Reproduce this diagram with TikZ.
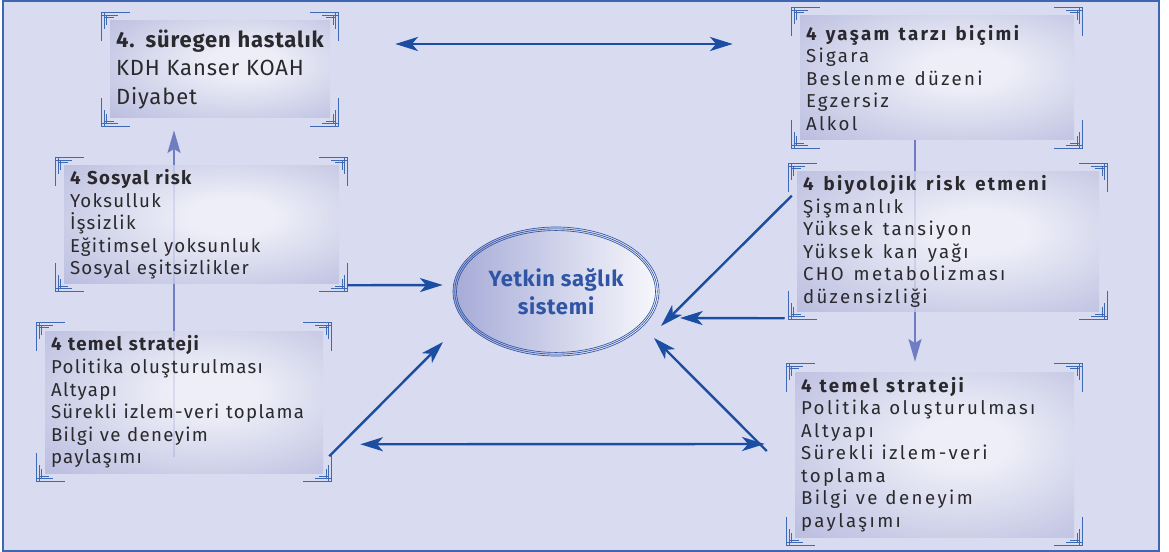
\documentclass[tikz,border=0pt]{standalone}
\usepackage{fontspec}
\setmainfont{Fira Sans}
\newfontfamily\leftface[LetterSpace=7]{Fira Sans}
\newfontfamily\rightface[LetterSpace=13]{Fira Sans}
\newfontfamily\lifeface[LetterSpace=12.5]{Fira Sans}
\newfontfamily\bioface[LetterSpace=12.5]{Fira Sans}
\newfontfamily\topface[LetterSpace=4]{Fira Sans}
\newfontfamily\ovalface[LetterSpace=3]{Fira Sans}
\newcommand{\wordgap}[1]{\spaceskip=#1\relax}
\usetikzlibrary{arrows.meta,positioning,shapes.geometric}

\definecolor{bgviolet}{HTML}{D9DCF0}
\definecolor{frameblue}{HTML}{3F66B3}
\definecolor{ornblue}{HTML}{3D69B5}
\definecolor{arrowblue}{HTML}{1B4EA2}
\definecolor{linkviolet}{HTML}{6F7EC2}
\definecolor{boxedge}{HTML}{A8ACD6}
\definecolor{boxmid}{HTML}{F3F3FA}
\definecolor{textdark}{HTML}{2A292D}
\definecolor{ovalblue}{HTML}{2F55A4}
\definecolor{ovalleft}{HTML}{A6ABD8}
\definecolor{ovalright}{HTML}{F8F8FC}

\pgfdeclarelayer{backdrop}
\pgfdeclarelayer{behind}
\pgfsetlayers{backdrop,behind,main}

\pgfdeclareradialshading{boxglow}{\pgfpoint{6bp}{4bp}}{color(0bp)=(boxmid); color(8bp)=(boxmid); color(44bp)=(boxedge); color(80bp)=(boxedge)}

% corner brackets, drawn for the top left corner and mirrored
\newcommand{\boxornament}[3]{
  \begin{scope}[shift={(#1)}, xscale=#2, yscale=#3]
    \draw[ornline] (-8,20) -- (-8,-8) -- (20,-8);
    \draw[ornthin] (-5.5,-8) -- (-5.5,8) (-3,-6) -- (-3,4)
                   (-8,-5.5) -- (8,-5.5) (-6,-3) -- (4,-3);
  \end{scope}
}
\newcommand{\boxcorners}[1]{
  \boxornament{#1.north west}{1}{1}
  \boxornament{#1.north east}{-1}{1}
  \boxornament{#1.south west}{1}{-1}
  \boxornament{#1.south east}{-1}{-1}
}

\tikzset{
  riskbox/.style={rectangle, shading=boxglow, fill opacity=0.8, text opacity=1,
                  text=textdark, align=left, inner xsep=4.5pt, inner ysep=0pt,
                  font=\leftface\fontsize{14}{16.9}\selectfont,
                  execute at begin node={\wordgap{5pt}}},
  widegap/.style={execute at begin node={\wordgap{#1}}},
  ovalnode/.style={ellipse, draw=ovalblue, line width=0.5pt,
                   left color=ovalleft, right color=ovalright,
                   minimum width=154.5pt, minimum height=96.75pt,
                   font=\ovalface\fontsize{16.5}{21}\selectfont\bfseries, text=ovalblue, align=center},
  ovalring/.style={draw=ovalblue, line width=0.5pt},
  ornline/.style={draw=ornblue, line width=1.1pt},
  ornthin/.style={draw=ornblue, line width=0.45pt},
  flow/.style={draw=arrowblue, line width=1.8pt,
               -{Stealth[length=17pt,width=10.5pt,inset=4.5pt]}},
  twoway/.style={flow, {Stealth[length=17pt,width=10.5pt,inset=4.5pt]}-{Stealth[length=17pt,width=10.5pt,inset=4.5pt]}},
  link/.style={draw=linkviolet, line width=1.5pt},
  linkarrow/.style={link, -{Stealth[length=17pt,width=9.75pt,inset=3pt]}},
}

\begin{document}
\begin{tikzpicture}[x=0.75pt, y=-0.75pt]
  \useasboundingbox (0,0) rectangle (1169,552);
  \begin{pgfonlayer}{backdrop}
    \draw[frameblue, line width=1.1pt, fill=bgviolet] (3,1) rectangle (1159,551);
  \end{pgfonlayer}

  \coordinate (leftfoot) at (174,457);
  \coordinate (rightfoot) at (915,140);

  % boxes
  \node[riskbox, text width=156pt, minimum height=72.75pt,
        font=\topface\fontsize{16.5}{21.4}\selectfont] (hastalik) at (220,69.5)
    {\mbox{\textbf{4. süregen hastalık}}\\KDH Kanser KOAH\\Diyabet};
  \node[riskbox, text width=197.25pt, minimum height=87.75pt] (sosyal) at (201.5,224.5)
    {\textbf{4 Sosyal risk}\\Yoksulluk\\İşsizlik\\Eğitimsel yoksunluk\\Sosyal eşitsizlikler};
  \node[riskbox, text width=199.5pt, minimum height=106.5pt] (strateji) at (184,402)
    {\textbf{4 temel strateji}\\Politika oluşturulması\\Altyapı\\\mbox{Sürekli izlem-veri toplama}\\Bilgi ve deneyim\\paylaşımı};
  \node[riskbox, text width=196.5pt, minimum height=93pt, widegap=7pt,
        font=\lifeface\fontsize{14}{16.9}\selectfont] (yasam) at (937,78)
    {\textbf{\mbox{4 yaşam tarzı biçimi}}\\Sigara\\Beslenme düzeni\\Egzersiz\\Alkol};
  \node[riskbox, text width=217.5pt, minimum height=104.25pt, widegap=7.5pt,
        font=\bioface\fontsize{14}{16.9}\selectfont] (biyolojik) at (948,241.5)
    {\textbf{\mbox{4 biyolojik risk etmeni}}\\Şişmanlık\\Yüksek tansiyon\\Yüksek kan yağı\\CHO metabolizması\\düzensizliği};
  \node[riskbox, text width=200.25pt, minimum height=123.75pt, widegap=6pt,
        font=\rightface\fontsize{14}{16.9}\selectfont] (strateji2) at (934.5,454.5)
    {\textbf{4 temel strateji}\\\mbox{Politika oluşturulması}\\Altyapı\\Sürekli izlem-veri\\toplama\\Bilgi ve deneyim\\paylaşımı};

  \boxcorners{hastalik}
  \boxcorners{sosyal}
  \boxcorners{strateji}
  \boxcorners{yasam}
  \boxcorners{biyolojik}
  \boxcorners{strateji2}

  % vertical links, behind the boxes
  \begin{pgfonlayer}{behind}
    \draw[linkarrow] (leftfoot) -- ([shift={(-46,12)}]hastalik.south);
    \draw[linkarrow] (rightfoot) -- ([shift={(-19.5,-10)}]strateji2.north);
  \end{pgfonlayer}

  % centre
  \node[ovalnode] (oval) at (556,291.5) {Yetkin sağlık\\sistemi};
  \draw[ovalring] (oval.center) ellipse [x radius=75.9pt, y radius=47pt];
  \draw[ovalring] (oval.center) ellipse [x radius=74.6pt, y radius=45.7pt];

  % arrows
  \draw[twoway] ([shift={(65,-25.5)}]hastalik.east) -- ([shift={(-67,-34)}]yasam.west);
  \draw[flow] ([shift={(8,2)}]sosyal.south east) -- ([shift={(-10,-6.5)}]oval.west);
  \draw[flow] ([shift={(6,-17)}]strateji.south east) -- ([shift={(-113,50.5)}]oval.center);
  \draw[flow] ([shift={(-5,24)}]biyolojik.north west) -- ([shift={(105,34.5)}]oval.center);
  \draw[flow] ([shift={(-12,7)}]biyolojik.south west) -- ([shift={(124,26.5)}]oval.center);
  \draw[twoway] ([shift={(37,-29)}]strateji.south east) -- ([shift={(-30,-10.5)}]strateji2.west);
  \draw[flow] ([shift={(-28,-3.5)}]strateji2.west) -- ([shift={(98,46.5)}]oval.center);
\end{tikzpicture}
\end{document}
